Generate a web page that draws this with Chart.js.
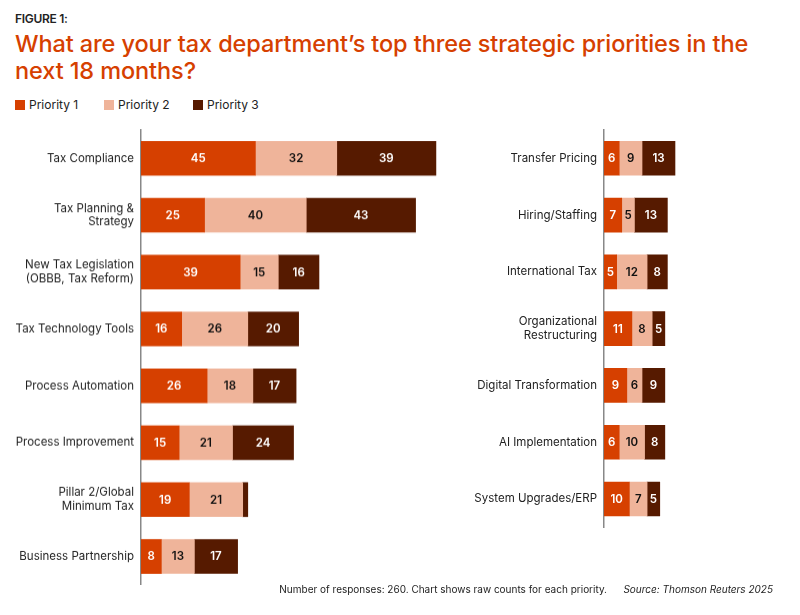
<!DOCTYPE html>
<html>
<head>
<meta charset="utf-8">
<script src="https://cdn.jsdelivr.net/npm/chart.js@4"></script>
<style>
  body { margin: 0; background: #fff; font-family: Inter, "Noto Sans", sans-serif; }
  #wrap { position: relative; width: 800px; height: 615px; overflow: hidden; }
  #fig { position: absolute; left: 15px; top: 11px; font-size: 12px; font-weight: 600; color: #222; letter-spacing: -0.3px; }
  #title { position: absolute; left: 15px; top: 30px; width: 745px; font-size: 23.5px; font-weight: 500; color: #d64000; line-height: 27px; letter-spacing: -0.1px; }
  #legend { position: absolute; left: 15px; top: 97px; font-size: 12px; color: #222; }
  #legend span.item { position: absolute; white-space: nowrap; }
  #legend i { display: inline-block; width: 10px; height: 10px; vertical-align: -1px; margin-right: 4px; }
  #foot { position: absolute; right: 193px; top: 583px; font-size: 10px; color: #222; white-space: nowrap; }
  #src { position: absolute; right: 27px; top: 583px; font-size: 10px; color: #222; font-style: italic; white-space: nowrap; }
  canvas { position: absolute; }
</style>
</head>
<body>
<div id="wrap">
  <div id="fig">FIGURE 1:</div>
  <div id="title">What are your tax department’s top three strategic priorities in the next 18 months?</div>
  <div id="legend">
    <span class="item" style="left:0"><i style="background:#d64000"></i>Priority 1</span>
    <span class="item" style="left:89px"><i style="background:#efb49a"></i>Priority 2</span>
    <span class="item" style="left:178px"><i style="background:#561a00"></i>Priority 3</span>
  </div>
  <canvas id="left" style="left:0;top:130px"></canvas>
  <canvas id="right" style="left:450px;top:130px"></canvas>
  <div id="foot">Number of responses: 260. Chart shows raw counts for each priority.</div>
  <div id="src">Source: Thomson Reuters 2025</div>
</div>
<script>
// left panel
const leftLabels = [
  'Tax Compliance',
  ['Tax Planning &', 'Strategy'],
  ['New Tax Legislation', '(OBBB, Tax Reform)'],
  'Tax Technology Tools',
  'Process Automation',
  'Process Improvement',
  ['Pillar 2/Global', 'Minimum Tax'],
  'Business Partnership'
];
const leftP1 = [45, 25, 39, 16, 26, 15, 19, 8];
const leftP2 = [32, 40, 15, 26, 18, 21, 21, 13];
const leftP3 = [39, 43, 16, 20, 17, 24, 2, 17];

// right panel
const rightLabels = [
  'Transfer Pricing',
  'Hiring/Staffing',
  'International Tax',
  ['Organizational', 'Restructuring'],
  'Digital Transformation',
  'AI Implementation',
  'System Upgrades/ERP'
];
const rightP1 = [6, 7, 5, 11, 9, 6, 10];
const rightP2 = [9, 5, 12, 8, 6, 10, 7];
const rightP3 = [13, 13, 8, 5, 9, 8, 5];

const seriesNames = ['Priority 1', 'Priority 2', 'Priority 3'];
const colors = ['#d64000', '#efb49a', '#561a00'];
const textColors = ['#ffffff', '#111111', '#ffffff'];

const ROW = 56.75;
const TOP = 130;

// draws the counts inside each segment
const valueLabels = {
  id: 'valueLabels',
  afterDatasetsDraw(chart) {
    const ctx = chart.ctx;
    ctx.save();
    ctx.font = '600 11.5px Inter, "Noto Sans", sans-serif';
    ctx.textAlign = 'center';
    ctx.textBaseline = 'middle';
    chart.data.datasets.forEach((ds, i) => {
      chart.getDatasetMeta(i).data.forEach((bar, j) => {
        const v = ds.data[j];
        if (v < 3) return;
        ctx.fillStyle = textColors[i];
        ctx.fillText(String(v), (bar.x + bar.base) / 2, bar.y + 0.5);
      });
    });
    ctx.restore();
  }
};

function makeChart(id, labels, p1, p2, p3, axisW, areaW, xMax) {
  const el = document.getElementById(id);
  const w = axisW + areaW;
  const want = labels.length * ROW;
  el.width = w;
  el.height = want;
  const chart = new Chart(el, {
    type: 'bar',
    data: {
      labels: labels,
      datasets: [p1, p2, p3].map((d, i) => ({
        label: seriesNames[i],
        data: d,
        backgroundColor: colors[i],
        borderWidth: 0,
        barThickness: 34
      }))
    },
    options: {
      indexAxis: 'y',
      responsive: false,
      maintainAspectRatio: false,
      animation: false,
      layout: { padding: 0 },
      plugins: { legend: { display: false }, tooltip: { enabled: false } },
      scales: {
        x: {
          stacked: true, min: 0, max: xMax, display: false
        },
        y: {
          stacked: true,
          grid: { display: false, drawTicks: false },
          border: { display: true, color: '#888', width: 1.5 },
          ticks: {
            color: '#222', padding: 7,
            font: { family: 'Inter, "Noto Sans", sans-serif', size: 11.5 }
          },
          afterFit(scale) { scale.width = axisW; }
        }
      }
    },
    plugins: [valueLabels]
  });
  // the category axis reserves room for its end labels; grow the canvas so the plot area is exactly rows*ROW
  const ca = chart.chartArea;
  const extra = want - (ca.bottom - ca.top);
  chart.resize(w, want + extra);
  el.style.top = (TOP - chart.chartArea.top) + 'px';
  return chart;
}

makeChart('left', leftLabels, leftP1, leftP2, leftP3, 141, 300, 118);
makeChart('right', rightLabels, rightP1, rightP2, rightP3, 154, 180, 71);
</script>
</body>
</html>
